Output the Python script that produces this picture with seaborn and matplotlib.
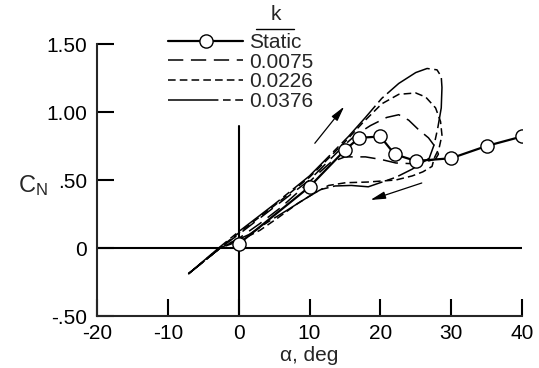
import numpy as np
import pandas as pd
import matplotlib
matplotlib.use("Agg")
import matplotlib.pyplot as plt
import seaborn as sns
from matplotlib.lines import Line2D

# ---------------- data ----------------
static_alpha = [0, 10, 15, 17, 20, 22, 25, 30, 35, 40]
static_cn = [0.03, 0.45, 0.72, 0.81, 0.82, 0.69, 0.64, 0.66, 0.75, 0.82]

# k = 0.0075 (inner loop)
k1_alpha = [-7.1, -2.6, 0, 5, 10, 15, 16.5, 18.6, 20.9, 22.6, 24.0, 25.4, 26.8, 27.8,
            28.2, 27.8, 26.5, 24.5, 22.2, 20.2, 17.9, 15.0, 13.0, 11.5, 9.0, 6.0, 3.0,
            0.0, -2.6, -7.1]
k1_cn = [-0.19, 0.0, 0.10, 0.30, 0.50, 0.76, 0.83, 0.90, 0.96, 0.98, 0.94, 0.87, 0.81, 0.74,
         0.69, 0.655, 0.635, 0.62, 0.625, 0.65, 0.67, 0.67, 0.63, 0.56, 0.44, 0.30, 0.18,
         0.07, 0.0, -0.19]

# k = 0.0226 (middle loop)
k2_alpha = [-7.1, -2.6, 0, 5, 10, 15, 17.5, 20.2, 22.6, 25.0, 26.4, 27.8, 28.5, 28.7,
            28.3, 27.6, 27.3, 26.0, 24.5, 22.2, 18.2, 15.1, 12.7, 10.9, 8.4, 5.5, 3.0,
            0.0, -2.6, -7.1]
k2_cn = [-0.19, 0.005, 0.11, 0.31, 0.52, 0.78, 0.92, 1.06, 1.13, 1.14, 1.11, 1.03, 0.93, 0.83,
         0.735, 0.66, 0.60, 0.56, 0.53, 0.50, 0.485, 0.48, 0.46, 0.41, 0.33, 0.22, 0.13,
         0.05, 0.0, -0.19]

# k = 0.0376 (outer loop)
k3_alpha = [-7.1, -2.6, 0, 5, 10, 15.5, 17.9, 20.2, 22.6, 25.0, 26.6, 28.0, 28.6, 28.7,
            28.6, 28.1, 27.6, 26.9, 24.5, 22.2, 18.3, 15.9, 13.6, 11.6, 9.8, 6.9, 4.1,
            1.5, -1.0, -2.6, -7.1]
k3_cn = [-0.19, 0.01, 0.12, 0.32, 0.53, 0.82, 0.96, 1.10, 1.21, 1.29, 1.32, 1.31, 1.26, 1.18,
         1.03, 0.88, 0.76, 0.66, 0.58, 0.52, 0.45, 0.46, 0.456, 0.43, 0.375, 0.28, 0.19,
         0.10, 0.04, 0.0, -0.19]

k_labels = ["Static", "0.0075", "0.0226", "0.0376"]
x_ticks = [-20, -10, 0, 10, 20, 30, 40]
x_ticklabels = ["-20", "-10", "0", "10", "20", "30", "40"]
y_ticks = [-0.5, 0, 0.5, 1.0, 1.5]
y_ticklabels = ["-.50", "0", ".50", "1.00", "1.50"]

# ---------------- style ----------------
sns.set_style("ticks")
plt.rcParams["font.family"] = ["Liberation Sans", "DejaVu Sans"]
plt.rcParams["mathtext.default"] = "regular"
plt.rcParams["axes.linewidth"] = 1.5

FS = 15

fig = plt.figure(figsize=(5.39, 3.68), dpi=100)
ax = fig.add_axes([97 / 539, 1 - 316 / 368, 425 / 539, 272 / 368])

# reference lines
ax.axhline(0, color="black", lw=1.5, zorder=1)
ax.axvline(0, ymin=0, ymax=(0.9 + 0.5) / 2.0, color="black", lw=1.5, zorder=1)

lw = 1.1
sns.lineplot(x=k1_alpha, y=k1_cn, sort=False, estimator=None, ax=ax, color="black",
             lw=lw, linestyle=(0, (10, 5)), label=k_labels[1], zorder=3)
sns.lineplot(x=k2_alpha, y=k2_cn, sort=False, estimator=None, ax=ax, color="black",
             lw=lw, linestyle=(0, (5, 2.7)), label=k_labels[2], zorder=3)
sns.lineplot(x=k3_alpha, y=k3_cn, sort=False, estimator=None, ax=ax, color="black",
             lw=lw, linestyle=(0, (33, 3, 5, 3)), label=k_labels[3], zorder=3)
sns.lineplot(x=static_alpha, y=static_cn, sort=False, estimator=None, ax=ax, color="black",
             lw=1.6, marker="o", markersize=9.5, markerfacecolor="white",
             markeredgecolor="black", markeredgewidth=1.0, label=k_labels[0], zorder=4)

# arrows
ax.annotate("", xy=(14.9, 1.04), xytext=(10.75, 0.77),
            arrowprops=dict(arrowstyle="-|>,head_length=0.9,head_width=0.22",
                            lw=0.9, color="black", shrinkA=0, shrinkB=0))
ax.annotate("", xy=(18.6, 0.353), xytext=(25.85, 0.478),
            arrowprops=dict(arrowstyle="-|>,head_length=0.9,head_width=0.22",
                            lw=0.9, color="black", shrinkA=0, shrinkB=0))

ax.set_xlim(-20, 40)
ax.set_ylim(-0.5, 1.5)
ax.set_xticks(x_ticks)
ax.set_xticklabels(x_ticklabels)
ax.set_yticks(y_ticks)
ax.set_yticklabels(y_ticklabels)
ax.tick_params(direction="in", length=12, width=1.5, labelsize=FS, colors="black")
ax.tick_params(axis="y", pad=7)
ax.tick_params(axis="x", pad=6)
sns.despine(ax=ax)

ax.set_xlabel("\u03b1, deg", fontsize=FS, labelpad=2)
ax.set_ylabel(r"$\mathregular{C_N}$", fontsize=17, rotation=0, ha="right", va="center")
ax.yaxis.set_label_coords(-0.115, 0.48)

# legend
handles, labels = ax.get_legend_handles_labels()
order = [labels.index(l) for l in k_labels]
leg = ax.legend([handles[i] for i in order], [labels[i] for i in order],
                loc="upper left", bbox_to_anchor=(168 / 539, 1 - 33 / 368),
                bbox_transform=fig.transFigure, frameon=False, fontsize=FS,
                handlelength=3.6, handletextpad=0.3, labelspacing=0.03,
                borderpad=0, borderaxespad=0, numpoints=1)
fig.text(276 / 539, 1 - 15 / 368, "k", fontsize=FS, ha="center", va="center")
fig.add_artist(Line2D([256 / 539, 294 / 539], [1 - 29 / 368, 1 - 29 / 368],
                      color="black", lw=1.0, transform=fig.transFigure))

fig.savefig("out.png", dpi=100, facecolor="white")
